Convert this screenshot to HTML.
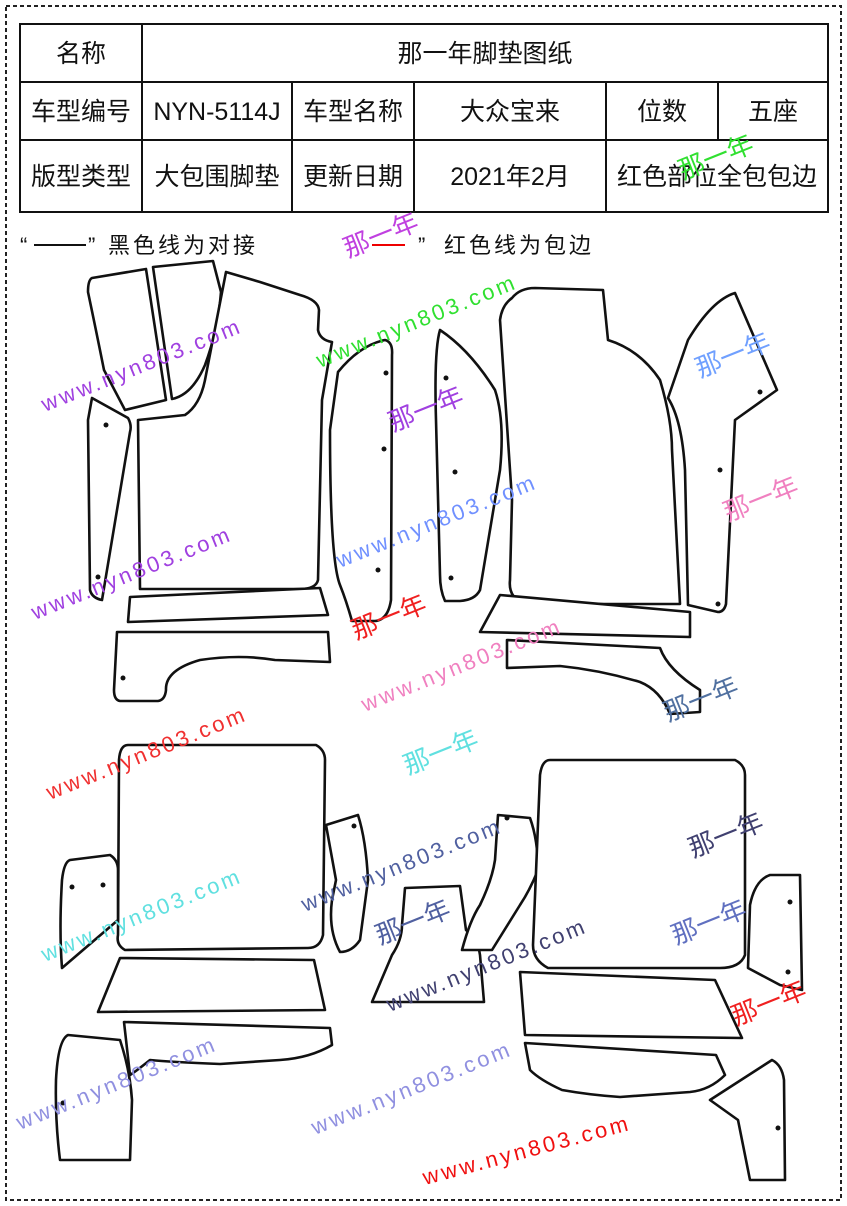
<!DOCTYPE html>
<html><head><meta charset="utf-8"><style>
body{margin:0;background:#fff;}
svg{display:block;}
text{font-family:"Liberation Sans","Noto Sans CJK SC",sans-serif;}
.p{fill:#fff;stroke:#111;stroke-width:2.6;stroke-linejoin:round;}
.wm{font-family:"Liberation Mono","Noto Sans CJK SC",monospace;font-size:22px;letter-spacing:3px;}
</style></head><body>
<svg width="847" height="1206" viewBox="0 0 847 1206" xmlns="http://www.w3.org/2000/svg">
<rect x="0" y="0" width="847" height="1206" fill="#fff"/>
<rect x="6" y="6" width="835" height="1194" fill="none" stroke="#222" stroke-width="2" stroke-dasharray="4 3"/>
<g fill="none" stroke="#111" stroke-width="2">
<rect x="20" y="24" width="808" height="188"/>
<line x1="20" y1="82" x2="828" y2="82"/><line x1="20" y1="140" x2="828" y2="140"/>
<line x1="142" y1="24" x2="142" y2="212"/>
<line x1="292" y1="82" x2="292" y2="212"/><line x1="414" y1="82" x2="414" y2="212"/>
<line x1="606" y1="82" x2="606" y2="212"/><line x1="718" y1="82" x2="718" y2="140"/>
</g>
<g font-size="25" text-anchor="middle" fill="#111">
<text x="81" y="62">名称</text><text x="485" y="62">那一年脚垫图纸</text>
<text x="81" y="120">车型编号</text><text x="217" y="120">NYN-5114J</text><text x="353" y="120">车型名称</text><text x="510" y="120">大众宝来</text><text x="662" y="120">位数</text><text x="773" y="120">五座</text>
<text x="81" y="185">版型类型</text><text x="217" y="185">大包围脚垫</text><text x="353" y="185">更新日期</text><text x="510" y="185">2021年2月</text><text x="717" y="185">红色部位全包包边</text>
</g>
<g font-size="22" fill="#111">
<text x="20" y="253">“</text><line x1="34" y1="245" x2="86" y2="245" stroke="#111" stroke-width="2"/><text x="88" y="253">”</text>
<text x="108" y="253" letter-spacing="3">黑色线为对接</text>
<line x1="372" y1="245" x2="405" y2="245" stroke="#e00" stroke-width="2"/><text x="418" y="253">”</text>
<text x="444" y="253" letter-spacing="3">红色线为包边</text>
</g>
<g class="p">
<path class="p" d="M92,278 L146,269 L166,400 L125,410 L104,370 Q96,330 88,292 Q88,280 92,278Z"/>
<path class="p" d="M153,267 L213,261 L221,292 Q218,330 205,365 Q192,395 172,399 Z"/>
<path class="p" d="M226,272 L260,282 L300,295 Q318,300 319,310 L318,330 Q320,340 332,342 L322,400 L318,580 Q316,589 300,589 L140,589 L138,420 L185,415 Q200,405 205,380 Z"/>
<path class="p" d="M92,398 L128,418 Q132,425 130,432 L102,600 Q92,598 90,590 L88,420 Z"/>
<path class="p" d="M130,597 L320,588 L328,615 L128,622 Z"/>
<path class="p" d="M117,632 L328,632 L330,662 L275,660 Q240,654 200,660 Q165,670 166,690 Q165,700 158,701 L120,701 Q114,700 114,690 Z"/>
<path class="p" d="M338,372 Q360,345 385,340 Q393,342 392,355 L391,600 Q388,620 375,621 L352,621 Q346,600 340,585 Q330,560 330,430 Z"/>
<path class="p" d="M440,330 Q470,350 495,390 Q505,420 500,470 L480,590 Q475,600 460,601 L445,601 Q440,590 440,575 L436,420 Q434,350 440,330 Z"/>
<path class="p" d="M512,298 Q520,288 535,288 L603,290 L608,340 Q640,350 660,380 Q672,420 672,450 L680,604 L525,604 Q508,598 510,580 L512,500 L500,320 Q502,305 512,298 Z"/>
<path class="p" d="M688,340 Q712,300 735,293 L777,390 L735,420 L726,604 Q724,612 718,612 L688,605 L685,470 Q682,420 668,398 Z"/>
<path class="p" d="M500,595 L690,612 L690,637 L480,632 Z"/>
<path class="p" d="M507,640 L660,648 Q668,670 700,690 L700,712 L670,714 Q660,690 640,682 Q600,670 560,666 L507,668 Z"/>
<path class="p" d="M128,745 L316,745 Q325,750 325,760 L323,935 Q320,948 308,948 L125,950 Q116,945 118,935 L119,760 Q120,745 128,745 Z"/>
<path class="p" d="M70,860 L110,855 Q118,860 118,870 L118,920 L62,968 Q59,930 62,880 Q64,862 70,860 Z"/>
<path class="p" d="M120,958 L314,960 L325,1010 L98,1012 Z"/>
<path class="p" d="M124,1022 L330,1028 L332,1045 Q310,1058 280,1060 L220,1064 Q170,1062 150,1060 Q135,1072 130,1075 Z"/>
<path class="p" d="M68,1035 L120,1040 Q130,1070 132,1100 L130,1160 L60,1160 Q55,1120 56,1080 Q58,1040 68,1035 Z"/>
<path class="p" d="M326,825 L358,815 Q366,840 368,880 L360,940 Q352,952 340,952 Q328,930 332,900 L336,880 Z"/>
<path class="p" d="M405,888 L460,886 L466,930 Q478,940 480,955 L484,1002 L372,1002 L392,955 Q402,940 402,925 Z"/>
<path class="p" d="M498,815 L530,818 Q538,840 538,870 Q530,890 520,905 L492,950 L462,950 Q470,920 480,905 Q492,880 495,860 Z"/>
<path class="p" d="M550,760 L735,760 Q745,765 745,775 L745,955 Q740,968 720,968 L548,968 Q533,960 533,945 L540,775 Q542,760 550,760 Z"/>
<path class="p" d="M770,875 L800,875 L802,990 L780,985 L748,968 L750,905 Q755,880 770,875 Z"/>
<path class="p" d="M520,972 L715,980 L742,1038 L525,1035 Z"/>
<path class="p" d="M525,1043 L716,1055 L725,1075 Q710,1090 690,1092 L620,1097 Q590,1095 562,1090 Q540,1080 530,1070 Z"/>
<path class="p" d="M710,1100 L772,1060 Q782,1065 784,1080 L785,1180 L750,1180 Q742,1140 738,1120 Z"/>
</g>
<g fill="#111">
<circle cx="106" cy="425" r="2.5"/><circle cx="98" cy="577" r="2.5"/><circle cx="123" cy="678" r="2.5"/>
<circle cx="386" cy="373" r="2.5"/><circle cx="384" cy="449" r="2.5"/><circle cx="378" cy="570" r="2.5"/>
<circle cx="446" cy="378" r="2.5"/><circle cx="455" cy="472" r="2.5"/><circle cx="451" cy="578" r="2.5"/>
<circle cx="760" cy="392" r="2.5"/><circle cx="720" cy="470" r="2.5"/><circle cx="718" cy="604" r="2.5"/>
<circle cx="72" cy="887" r="2.5"/><circle cx="103" cy="885" r="2.5"/><circle cx="63" cy="1103" r="2.5"/>
<circle cx="354" cy="826" r="2.5"/><circle cx="507" cy="818" r="2.5"/><circle cx="790" cy="902" r="2.5"/>
<circle cx="788" cy="972" r="2.5"/><circle cx="778" cy="1128" r="2.5"/>
</g>
<g class="wm">
<text transform="translate(45,412) rotate(-22)" fill="#a040e0">www.nyn803.com</text>
<text transform="translate(320,368) rotate(-22)" fill="#30e030">www.nyn803.com</text>
<text transform="translate(35,620) rotate(-22)" fill="#a040e0">www.nyn803.com</text>
<text transform="translate(340,568) rotate(-22)" fill="#7090ff">www.nyn803.com</text>
<text transform="translate(365,712) rotate(-22)" fill="#f080c0">www.nyn803.com</text>
<text transform="translate(50,800) rotate(-22)" fill="#f03030">www.nyn803.com</text>
<text transform="translate(45,962) rotate(-22)" fill="#60e0e0">www.nyn803.com</text>
<text transform="translate(305,912) rotate(-22)" fill="#5060a0">www.nyn803.com</text>
<text transform="translate(390,1012) rotate(-22)" fill="#404070">www.nyn803.com</text>
<text transform="translate(20,1130) rotate(-22)" fill="#9090e0">www.nyn803.com</text>
<text transform="translate(315,1135) rotate(-22)" fill="#9090e0">www.nyn803.com</text>
<text transform="translate(425,1185) rotate(-15)" fill="#f01010">www.nyn803.com</text>
</g>
<g font-size="26" font-family="'Noto Sans CJK SC',sans-serif">
<text transform="translate(348,258) rotate(-22)" fill="#c040e0">那一年</text>
<text transform="translate(393,432) rotate(-22)" fill="#a040e0">那一年</text>
<text transform="translate(683,180) rotate(-22)" fill="#30e030">那一年</text>
<text transform="translate(700,378) rotate(-22)" fill="#70a0ff">那一年</text>
<text transform="translate(728,522) rotate(-22)" fill="#f080c0">那一年</text>
<text transform="translate(356,640) rotate(-22)" fill="#f02020">那一年</text>
<text transform="translate(668,722) rotate(-22)" fill="#5070a0">那一年</text>
<text transform="translate(408,775) rotate(-22)" fill="#60e0e0">那一年</text>
<text transform="translate(693,858) rotate(-22)" fill="#404070">那一年</text>
<text transform="translate(380,945) rotate(-22)" fill="#5060a0">那一年</text>
<text transform="translate(676,945) rotate(-22)" fill="#6070c0">那一年</text>
<text transform="translate(736,1026) rotate(-22)" fill="#f02020">那一年</text>
</g>
</svg>
</body></html>
